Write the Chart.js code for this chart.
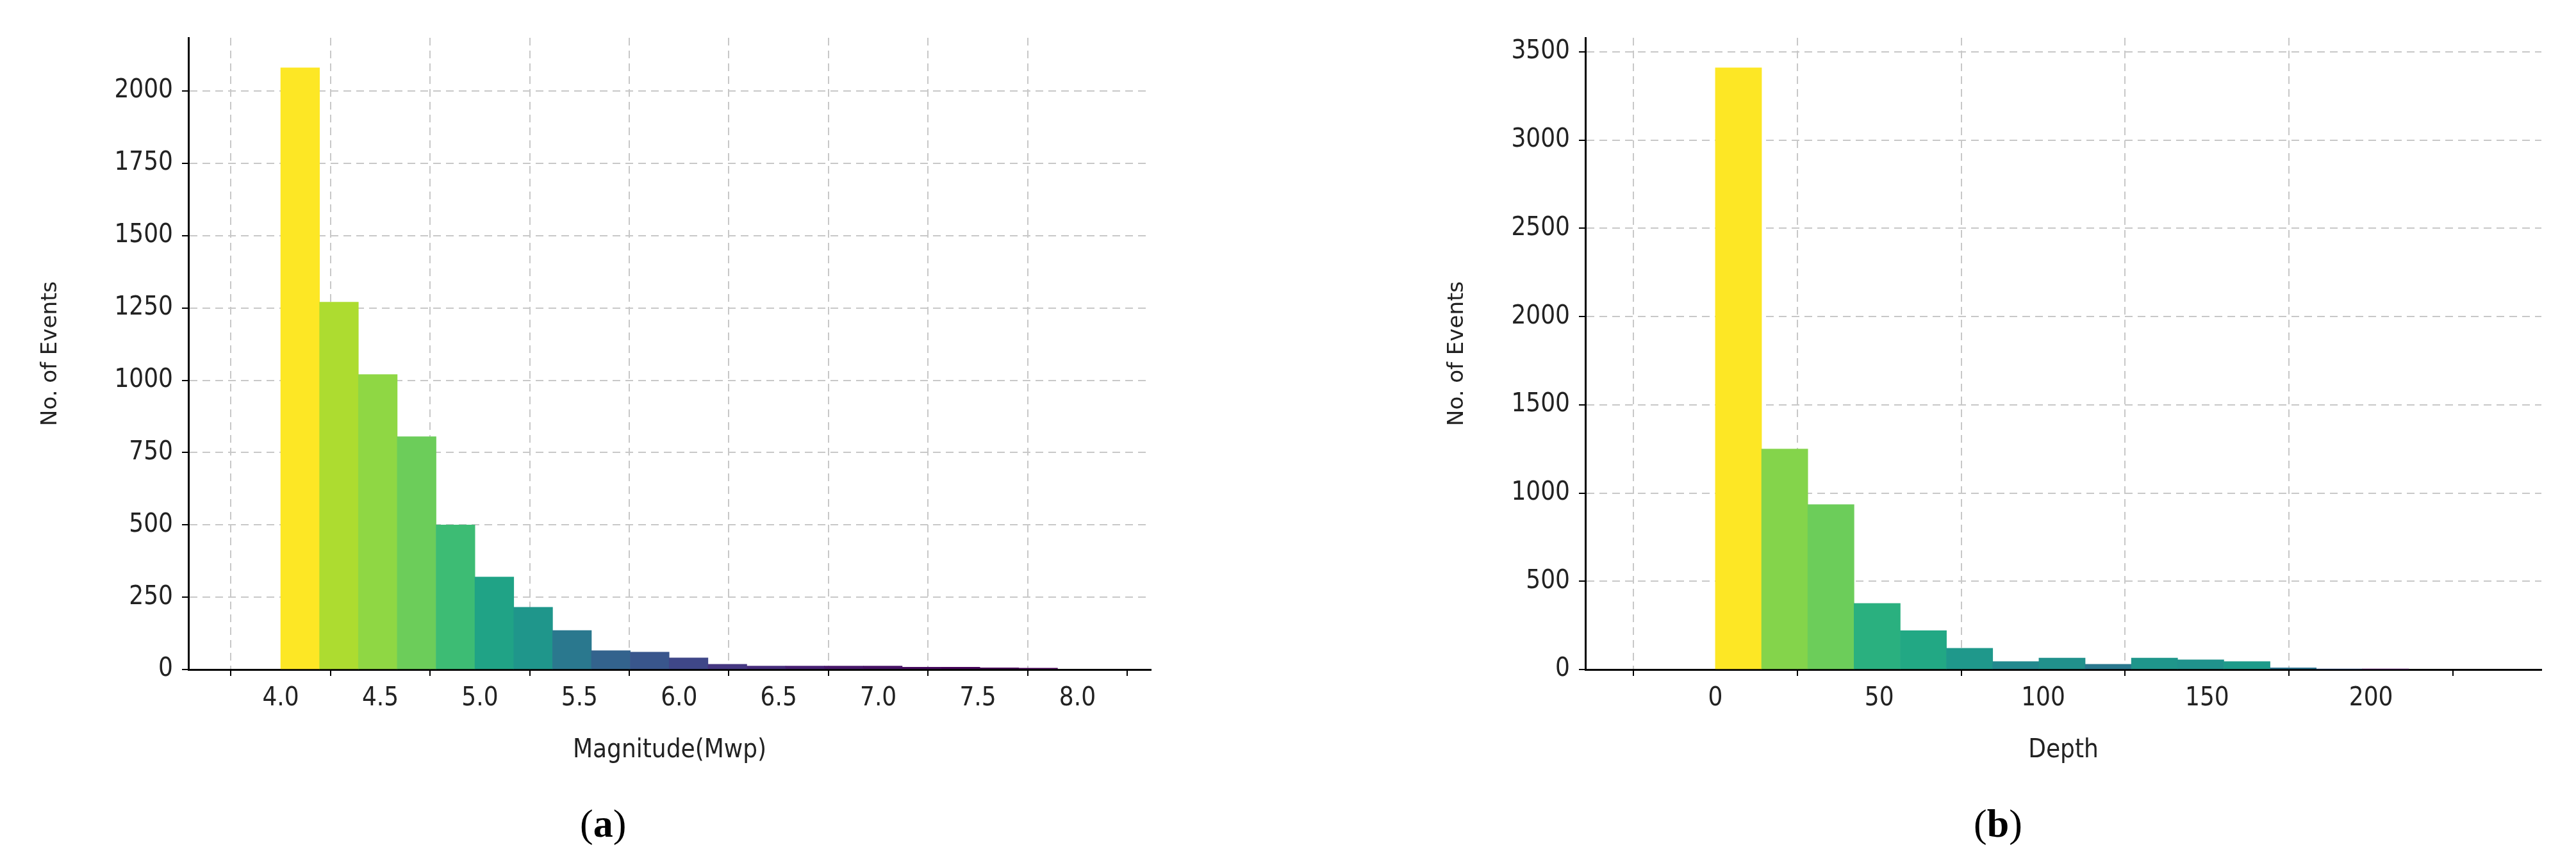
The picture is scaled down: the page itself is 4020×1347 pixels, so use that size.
<!DOCTYPE html>
<html>
<head>
<meta charset="utf-8">
<script src="https://cdn.jsdelivr.net/npm/chart.js@4"></script>
<style>
  body { margin: 0; background: #fff; width: 4020px; height: 1347px; position: relative; overflow: hidden; }
  .box { position: absolute; top: 0; height: 1200px; }
  .cap { position: absolute; top: 1250px; font-family: 'Liberation Serif', serif; font-size: 62px; color: #000; }
</style>
</head>
<body>
<div class="box" style="left:0;width:1830px"><canvas id="magChart"></canvas></div>
<div class="box" style="left:2100px;width:1900px"><canvas id="depthChart"></canvas></div>
<div class="cap" style="left:905px">(<b>a</b>)</div>
<div class="cap" style="left:3080px">(<b>b</b>)</div>
<script>
// histogram bins (left edges), bin widths and counts
var magStart = 4.0;
var magWidth = 0.195;
var magCounts = [2080, 1270, 1020, 805, 500, 320, 215, 135, 65, 60, 40, 18, 12, 12, 12, 12, 8, 8, 6, 5];
var magTicks = [4.0, 4.5, 5.0, 5.5, 6.0, 6.5, 7.0, 7.5, 8.0];

var depthStart = 0;
var depthWidth = 14.1;
var depthCounts = [3410, 1250, 935, 375, 220, 120, 45, 65, 30, 65, 55, 45, 10, 3, 2];
var depthTicks = [0, 50, 100, 150, 200];

var magColors = ['#fde725', '#addc30', '#8fd744', '#6ccd5a', '#3dbc74', '#20a386', '#1f968b', '#2a788e',
  '#33638d', '#39568c', '#3f4788', '#453781', '#472d7b', '#482173', '#48186a', '#471365', '#460b5e',
  '#450559', '#440154', '#440154'];
var depthColors = ['#fde725', '#84d44b', '#6ccd5a', '#2ab07f', '#22a884', '#1f988b', '#23898e',
  '#21918c', '#2a788e', '#1f968b', '#20928c', '#1e9b8a', '#2c728e', '#39568c', '#440154'];

function toPoints(start, width, counts) {
  return counts.map(function (c, i) { return { x: start + width * (i + 0.5), y: c }; });
}

function makeChart(id, points, colors, xMin, xMax, yMax, yStep, xTicks, xTitle, padLeft, yWidth) {
  var tickFont = { family: "'DejaVu Sans Condensed', 'DejaVu Sans', sans-serif", size: 40 };
  var gridColor = function (ctx) {
    if (ctx.type !== 'tick' || !ctx.tick) return 'rgba(0,0,0,0)';
    return '#c8c8c8';
  };
  new Chart(document.getElementById(id), {
    type: 'bar',
    data: { datasets: [{ data: points, backgroundColor: colors, barPercentage: 1, categoryPercentage: 1, borderWidth: 0 }] },
    options: {
      responsive: true, maintainAspectRatio: false, animation: false,
      layout: { padding: { top: 59, right: 34, left: padLeft } },
      plugins: { legend: { display: false }, tooltip: { enabled: false } },
      scales: {
        x: {
          type: 'linear', min: xMin, max: xMax,
          afterBuildTicks: function (s) { s.ticks = xTicks.map(function (v) { return { value: v }; }); },
          afterFit: function (s) { s.height = 155; },
          ticks: { font: tickFont, color: '#222', padding: 12, autoSkip: false, maxRotation: 0,
            callback: function (v) { return xTicks[0] === 0 ? String(v) : Number(v).toFixed(1); } },
          grid: { color: gridColor, lineWidth: 2, tickLength: 10, tickColor: '#000' },
          border: { color: '#000', width: 3, dash: [12, 8] },
          title: { display: true, text: xTitle, font: tickFont, color: '#222', padding: { top: 4 } }
        },
        y: {
          min: 0, max: yMax,
          afterBuildTicks: function (s) {
            var t = []; for (var v = 0; v <= yMax; v += yStep) t.push({ value: v }); s.ticks = t;
          },
          afterFit: function (s) { s.width = yWidth; },
          ticks: { font: tickFont, color: '#222', padding: 14, callback: function (v) { return String(v); } },
          grid: { color: gridColor, lineWidth: 2, tickLength: 10, tickColor: '#000' },
          border: { color: '#000', width: 3, dash: [12, 8] },
          title: { display: true, text: 'No. of Events', font: { family: "'DejaVu Sans', sans-serif", size: 34 }, color: '#222' }
        }
      }
    }
  });
}

makeChart('magChart', toPoints(magStart, magWidth, magCounts), magColors, 3.805, 8.1, 2184, 250, magTicks, 'Magnitude(Mwp)', 55, 239);
makeChart('depthChart', toPoints(depthStart, depthWidth, depthCounts), depthColors, -10.5, 222.8, 3580, 500, depthTicks, 'Depth', 150, 224);
</script>
</body>
</html>
